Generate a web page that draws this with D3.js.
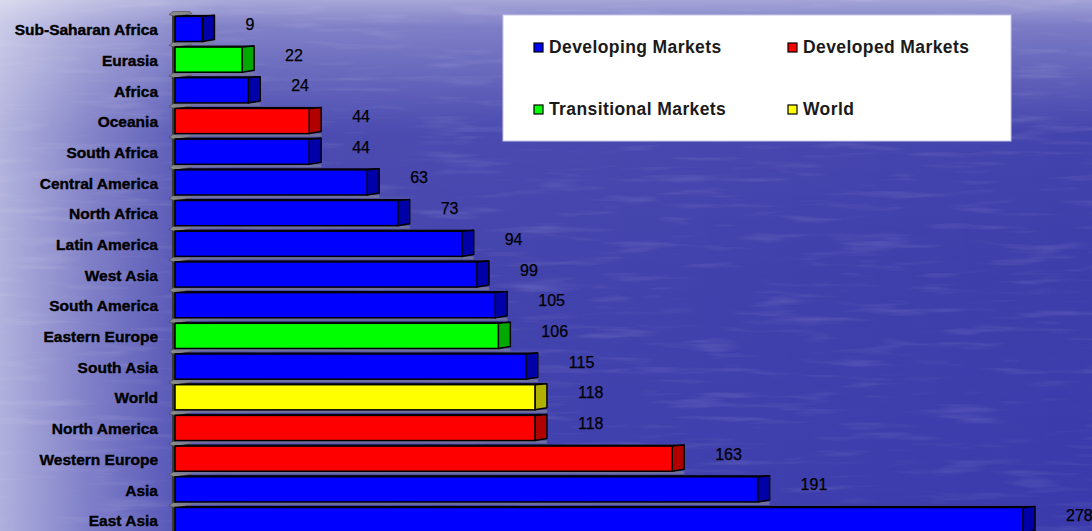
<!DOCTYPE html>
<html><head><meta charset="utf-8">
<script src="https://cdn.jsdelivr.net/npm/d3@7"></script>
<style>html,body{margin:0;padding:0;overflow:hidden;background:#3535a5}</style>
</head><body>
<svg id="chart" width="1092" height="531"></svg>
<script>
const categories = ["Sub-Saharan Africa","Eurasia","Africa","Oceania","South Africa","Central America","North Africa","Latin America","West Asia","South America","Eastern Europe","South Asia","World","North America","Western Europe","Asia","East Asia"];
const values = [9,22,24,44,44,63,73,94,99,105,106,115,118,118,163,191,278];
const groups = ["Developing Markets","Transitional Markets","Developing Markets","Developed Markets","Developing Markets","Developing Markets","Developing Markets","Developing Markets","Developing Markets","Developing Markets","Transitional Markets","Developing Markets","World","Developed Markets","Developed Markets","Developing Markets","Developing Markets"];
const legendLabels = ["Developing Markets","Developed Markets","Transitional Markets","World"];
const frontColors = ["#0000ff","#ff0000","#00ff00","#ffff00"];
const sideColors = ["#0000a8","#b00000","#00a800","#b0b000"];

const W = 1092, H = 531;
const svg = d3.select("#chart");
const defs = svg.append("defs");

// background
const gV = defs.append("linearGradient").attr("id","gv").attr("x1",0).attr("y1",0).attr("x2",0).attr("y2",1);
gV.append("stop").attr("offset",0).attr("stop-color","#fff").attr("stop-opacity",0.55);
gV.append("stop").attr("offset",0.05).attr("stop-color","#fff").attr("stop-opacity",0.35);
gV.append("stop").attr("offset",0.25).attr("stop-color","#fff").attr("stop-opacity",0.08);
gV.append("stop").attr("offset",1).attr("stop-color","#fff").attr("stop-opacity",0);
const gH = defs.append("linearGradient").attr("id","gh").attr("x1",0).attr("y1",0).attr("x2",1).attr("y2",0);
gH.append("stop").attr("offset",0).attr("stop-color","#fff").attr("stop-opacity",0.6);
gH.append("stop").attr("offset",0.08).attr("stop-color","#fff").attr("stop-opacity",0.35);
gH.append("stop").attr("offset",0.2).attr("stop-color","#fff").attr("stop-opacity",0.05);
gH.append("stop").attr("offset",1).attr("stop-color","#fff").attr("stop-opacity",0);
const gB = defs.append("linearGradient").attr("id","gb").attr("x1",0).attr("y1",0).attr("x2",0).attr("y2",1);
gB.append("stop").attr("offset",0.5).attr("stop-color","#4848b8").attr("stop-opacity",0);
gB.append("stop").attr("offset",1).attr("stop-color","#4848b8").attr("stop-opacity",0.35);
const tex = defs.append("filter").attr("id","water").attr("x",0).attr("y",0).attr("width",1).attr("height",1);
tex.append("feTurbulence").attr("type","fractalNoise").attr("baseFrequency","0.012 0.12").attr("numOctaves",3).attr("seed",4).attr("result","n");
tex.append("feColorMatrix").attr("type","matrix").attr("values","0 0 0 0 1  0 0 0 0 1  0 0 0 0 1  0 0 0 1.4 -0.75");

svg.append("rect").attr("width",W).attr("height",H).attr("fill","#3333a6");
svg.append("rect").attr("width",W).attr("height",H).attr("fill","url(#gb)");
svg.append("rect").attr("width",W).attr("height",H).attr("filter","url(#water)").attr("opacity",0.22);
svg.append("rect").attr("width",W).attr("height",H).attr("fill","url(#gh)");
svg.append("rect").attr("width",W).attr("height",H).attr("fill","url(#gv)");

// scales
const x = d3.scaleLinear().domain([0, 278]).range([175, 1023]);
const y = d3.scaleBand().domain(categories).range([13.6, 535.4]).paddingInner(0.18).paddingOuter(0.09);
const color = d3.scaleOrdinal().domain(legendLabels).range(frontColors);
const side = d3.scaleOrdinal().domain(legendLabels).range(sideColors);
const depth = 12;
const step = y.step();

// wall / axis
const axisG = svg.append("g");
axisG.append("rect").attr("x",172).attr("y",12).attr("width",3).attr("height",H).attr("fill","#3a3a3a");
const bounds = d3.range(categories.length + 1).map(i => y.range()[0] + i * step);
axisG.selectAll("path.tick").data(bounds).join("path")
  .attr("d", b => `M169,${b+1} L173,${b-2} L190,${b-2} L192,${b} L175,${b+3} Z`)
  .attr("fill","#8a8a8a").attr("stroke","#444").attr("stroke-width",0.6);

// bars
const data = categories.map((c,i)=>({c, v: values[i], g: groups[i]}));
const bars = svg.append("g").selectAll("g").data(data).join("g");
bars.append("rect")
  .attr("x", 176).attr("y", d => y(d.c) + y.bandwidth())
  .attr("width", d => x(d.v) - 176 + depth).attr("height", 3)
  .attr("fill","#7a7a9a").attr("opacity",0.8);
bars.append("path")
  .attr("d", d => { const t = y(d.c), x1 = x(d.v); return `M175,${t} L${x1},${t} L${x1+depth},${t-1} L${176+depth},${t-1} Z`; })
  .attr("fill", d => side(d.g)).attr("stroke","#000").attr("stroke-width",1);
bars.append("path")
  .attr("d", d => { const t = y(d.c), b = t + y.bandwidth(), x1 = x(d.v); return `M${x1},${t} L${x1+depth},${t-1} L${x1+depth},${b-2} L${x1},${b} Z`; })
  .attr("fill", d => side(d.g)).attr("stroke","#000").attr("stroke-width",1.5).attr("stroke-linejoin","round");
bars.append("rect")
  .attr("x", 175).attr("y", d => y(d.c))
  .attr("width", d => x(d.v) - 175).attr("height", y.bandwidth())
  .attr("fill", d => color(d.g)).attr("stroke","#000").attr("stroke-width",1.5);

// value labels
svg.append("g").selectAll("text").data(data).join("text")
  .attr("x", d => x(d.v) + depth + 31)
  .attr("y", d => y(d.c) + y.bandwidth()/2 + 1)
  .attr("font-family","Liberation Sans, Arial, sans-serif").attr("font-size",16)
  .attr("fill","#000").attr("stroke","#000").attr("stroke-width",0.25).text(d => d.v);

// category axis labels
const yAxis = d3.axisLeft(y).tickSize(0).tickPadding(0);
const ya = svg.append("g").attr("transform","translate(158,0)").call(yAxis);
ya.select(".domain").remove();
ya.selectAll("text").attr("font-family","Liberation Sans, Arial, sans-serif").attr("font-size",15.5)
  .attr("font-weight","bold").attr("fill","#000").attr("stroke","#000").attr("stroke-width",0.4)
  .attr("letter-spacing","0").attr("dy","0.4em");

// legend
const lg = svg.append("g");
lg.append("rect").attr("x",503).attr("y",15).attr("width",508).attr("height",126).attr("fill","#fff").attr("stroke","#c8c8e8").attr("stroke-width",1);
const lpos = [[534,47],[788,47],[534,109],[788,109]];
const items = lg.selectAll("g.item").data(legendLabels).join("g").attr("class","item")
  .attr("transform",(d,i)=>`translate(${lpos[i][0]},${lpos[i][1]})`);
items.append("rect").attr("x",0).attr("y",-4).attr("width",9).attr("height",9)
  .attr("fill", d => color(d)).attr("stroke","#000").attr("stroke-width",1.2);
items.append("text").attr("x",15).attr("y",6)
  .attr("font-family","Liberation Sans, Arial, sans-serif").attr("font-size",17.5).attr("font-weight","bold")
  .attr("letter-spacing","0.4").attr("fill","#1a1a1a").text(d => d);
</script>
</body></html>
